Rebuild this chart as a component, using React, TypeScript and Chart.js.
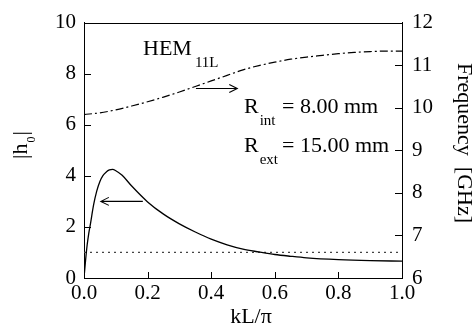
import React, { useEffect, useRef } from "react";
import { Chart, registerables } from "chart.js";

Chart.register(...registerables);

const SERIF = "'Liberation Serif', 'Times New Roman', Times, serif";

// |h0| curve (left axis)
const h0KL = [0, 0.005, 0.01, 0.015, 0.02, 0.03, 0.04, 0.05, 0.06, 0.07, 0.08, 0.09, 0.1, 0.12, 0.15, 0.2, 0.25, 0.3, 0.35, 0.4, 0.45, 0.5, 0.55, 0.6, 0.65, 0.7, 0.8, 0.9, 1.0];
const h0Values = [0, 0.7, 1.3, 1.75, 2.1, 2.85, 3.4, 3.78, 4.02, 4.15, 4.23, 4.25, 4.2, 4.02, 3.6, 2.98, 2.5, 2.12, 1.8, 1.52, 1.3, 1.13, 1.02, 0.92, 0.85, 0.79, 0.72, 0.68, 0.66];

// HEM11L frequency curve (right axis, GHz)
const freqKL = [0, 0.05, 0.1, 0.15, 0.2, 0.25, 0.3, 0.35, 0.4, 0.45, 0.5, 0.55, 0.6, 0.65, 0.7, 0.75, 0.8, 0.85, 0.9, 0.95, 1.0];
const freqValues = [9.84, 9.88, 9.95, 10.04, 10.14, 10.25, 10.37, 10.5, 10.63, 10.76, 10.89, 10.99, 11.07, 11.14, 11.19, 11.23, 11.27, 11.3, 11.32, 11.33, 11.33];

// reference level |h0| = 1
const refKL = [0, 1];
const refValues = [1, 1];

const xMin = 0, xMax = 1, xStep = 0.2;
const hMin = 0, hMax = 10, hStep = 2;
const fMin = 6, fMax = 12, fStep = 1;

const zip = (xs: number[], ys: number[]) => xs.map((x, i) => ({ x, y: ys[i] }));

function subText(ctx: CanvasRenderingContext2D, main: string, sub: string, x: number, y: number, mainSize: number, subSize: number, drop: number, gap = 1) {
  ctx.font = `${mainSize}px ${SERIF}`;
  ctx.fillText(main, x, y);
  const w = ctx.measureText(main).width;
  ctx.font = `${subSize}px ${SERIF}`;
  ctx.fillText(sub, x + w + gap, y + drop);
  return x + w + gap + ctx.measureText(sub).width;
}

function arrow(ctx: CanvasRenderingContext2D, x1: number, y1: number, x2: number, y2: number) {
  const dir = Math.sign(x2 - x1);
  ctx.beginPath();
  ctx.moveTo(x1, y1);
  ctx.lineTo(x2, y2);
  ctx.moveTo(x2 - dir * 8, y2 - 4);
  ctx.lineTo(x2, y2);
  ctx.lineTo(x2 - dir * 8, y2 + 4);
  ctx.stroke();
}

const annotations = {
  id: "annotations",
  afterDraw(chart: any) {
    const { ctx, chartArea: ca, scales } = chart;
    const sx = scales.x, sy = scales.y, sy2 = scales.y2;
    const a = (v: number) => Math.round(v) + 0.5;
    ctx.save();
    ctx.strokeStyle = "#000";
    ctx.fillStyle = "#000";
    ctx.lineWidth = 1;
    // top border
    ctx.beginPath();
    ctx.moveTo(ca.left, a(ca.top));
    ctx.lineTo(ca.right, a(ca.top));
    ctx.stroke();
    // inward ticks
    ctx.beginPath();
    sx.ticks.forEach((t: any) => {
      const p = a(sx.getPixelForValue(t.value));
      ctx.moveTo(p, ca.bottom);
      ctx.lineTo(p, ca.bottom - 6);
    });
    sy.ticks.forEach((t: any) => {
      const p = a(sy.getPixelForValue(t.value));
      ctx.moveTo(ca.left, p);
      ctx.lineTo(ca.left + 7, p);
    });
    sy2.ticks.forEach((t: any) => {
      const p = a(sy2.getPixelForValue(t.value));
      ctx.moveTo(ca.right, p);
      ctx.lineTo(ca.right - 7, p);
    });
    ctx.stroke();

    // arrows
    ctx.lineWidth = 1.1;
    const yl = sy.getPixelForValue(3.0);
    arrow(ctx, sx.getPixelForValue(0.185), yl, sx.getPixelForValue(0.053), yl);
    const yr = sy.getPixelForValue(7.42);
    arrow(ctx, sx.getPixelForValue(0.352), yr, sx.getPixelForValue(0.482), yr);

    // labels
    ctx.textBaseline = "alphabetic";
    ctx.textAlign = "left";
    subText(ctx, "HEM", "11L", 143, 55, 22, 15, 12, 3);
    subText(ctx, "R", "int", 244, 113, 22, 15, 12, 1);
    ctx.font = `22px ${SERIF}`;
    ctx.fillText("= 8.00 mm", 282, 113);
    subText(ctx, "R", "ext", 244, 152, 22, 15, 12, 1);
    ctx.font = `22px ${SERIF}`;
    ctx.fillText("= 15.00 mm", 282, 152);

    // x title
    ctx.textAlign = "center";
    ctx.font = `22px ${SERIF}`;
    ctx.fillText("kL/\u03c0", 251, 323);

    // left title |h0|
    ctx.save();
    ctx.translate(27, 159);
    ctx.rotate(-Math.PI / 2);
    ctx.textAlign = "left";
    ctx.font = `22px ${SERIF}`;
    ctx.fillText("|h", 0, 0);
    const wh = ctx.measureText("|h").width;
    ctx.font = `12px ${SERIF}`;
    ctx.fillText("0", wh + 1, 8);
    const w0 = ctx.measureText("0").width;
    ctx.font = `22px ${SERIF}`;
    ctx.fillText("|", wh + w0 + 2, 0);
    ctx.restore();

    // right title
    ctx.save();
    ctx.translate(458, 63);
    ctx.rotate(Math.PI / 2);
    ctx.textAlign = "left";
    ctx.font = `22px ${SERIF}`;
    ctx.fillText("Frequency  [GHz]", 0, 0);
    ctx.restore();

    ctx.restore();
  },
};

export default function App() {
  const ref = useRef<HTMLCanvasElement | null>(null);
  useEffect(() => {
    if (!ref.current) return;
    Chart.defaults.font.family = SERIF;
    Chart.defaults.font.size = 21;
    Chart.defaults.color = "#000";
    const tickFont = { family: SERIF, size: 21, style: "normal" as const, weight: "normal" as const, lineHeight: 1.2 };
    const chart = new Chart(ref.current, {
      type: "line",
      data: {
        datasets: [
          {
            data: zip(h0KL, h0Values),
            yAxisID: "y",
            borderColor: "#000",
            borderWidth: 1.3,
            pointRadius: 0,
            cubicInterpolationMode: "monotone",
            fill: false,
          },
          {
            data: zip(freqKL, freqValues),
            yAxisID: "y2",
            borderColor: "#000",
            borderWidth: 1.2,
            borderDash: [8, 3, 2, 3],
            pointRadius: 0,
            cubicInterpolationMode: "monotone",
            fill: false,
          },
          {
            data: zip(refKL, refValues),
            yAxisID: "y",
            borderColor: "#444",
            borderWidth: 1.2,
            borderDash: [2, 4],
            pointRadius: 0,
            fill: false,
          },
        ],
      },
      options: {
        responsive: false,
        animation: false,
        devicePixelRatio: 1,
        font: tickFont,
        layout: { padding: { top: 11, left: 0, right: 0, bottom: 0 } },
        plugins: { legend: { display: false }, tooltip: { enabled: false } },
        scales: {
          x: {
            type: "linear",
            position: "bottom",
            min: xMin,
            max: xMax,
            ticks: { stepSize: xStep, color: "#000", font: tickFont, padding: 3, maxRotation: 0, callback: (v: any) => Number(v).toFixed(1) },
            grid: { display: false, drawTicks: false },
            border: { display: true, color: "#000", width: 1 },
            afterFit: (s: any) => { s.height = 56; },
          },
          y: {
            type: "linear",
            position: "left",
            min: hMin,
            max: hMax,
            ticks: { stepSize: hStep, color: "#000", font: tickFont, padding: 8 },
            grid: { display: false, drawTicks: false },
            border: { display: true, color: "#000", width: 1 },
            afterFit: (s: any) => { s.width = 84; },
          },
          y2: {
            type: "linear",
            position: "right",
            min: fMin,
            max: fMax,
            ticks: { stepSize: fStep, color: "#000", font: tickFont, padding: 10 },
            grid: { display: false, drawTicks: false },
            border: { display: true, color: "#000", width: 1 },
            afterFit: (s: any) => { s.width = 72; },
          },
        },
      },
      plugins: [annotations],
    } as any);
    return () => chart.destroy();
  }, []);
  return (
    <div style={{ position: "fixed", left: 0, top: 0, width: 474, height: 334, background: "#fff" }}>
      <canvas ref={ref} width={474} height={334} />
    </div>
  );
}
